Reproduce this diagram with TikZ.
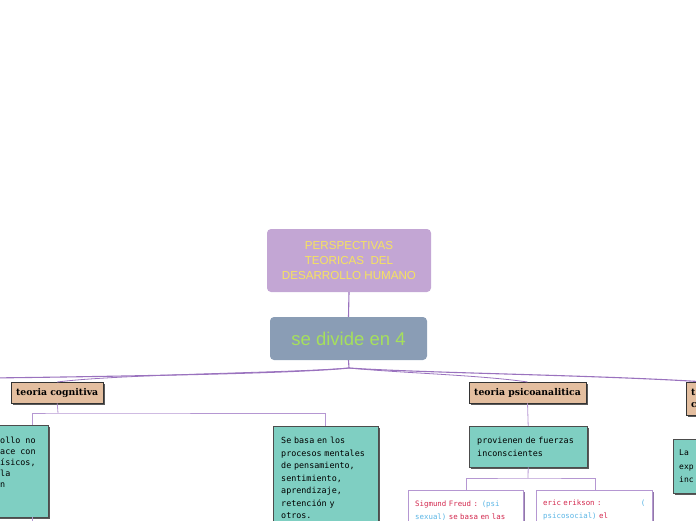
\documentclass[tikz,border=0pt]{standalone}
\usepackage{fontspec}
\setmainfont{Liberation Sans}
\newfontfamily\slabfont{DejaVu Serif}
\newfontfamily\notefont{DejaVu Sans Mono}
\usetikzlibrary{shadows}

\definecolor{topfill}{HTML}{C3A6D4}
\definecolor{toptext}{HTML}{F6E35E}
\definecolor{hubfill}{HTML}{8A9DB5}
\definecolor{hubtext}{HTML}{A6E05C}
\definecolor{tanfill}{HTML}{E3BE9F}
\definecolor{tealfill}{HTML}{7FCFC2}
\definecolor{branchcol}{HTML}{9A72BE}
\definecolor{linkcol}{HTML}{B597D2}
\definecolor{redtext}{HTML}{D3284E}
\definecolor{bluetext}{HTML}{5CB6E6}

\tikzset{
  main/.style={rounded corners=4pt, inner sep=0pt, align=center},
  theory/.style={draw=black!80, fill=tanfill, inner xsep=5pt, inner ysep=0pt,
    minimum height=21pt, anchor=north west,
    drop shadow={shadow xshift=2pt, shadow yshift=-2pt, fill=black!65, opacity=1},
    font=\slabfont\bfseries\fontsize{9.3}{12}\selectfont},
  card/.style={draw=black!70, fill=tealfill, anchor=north west, align=left,
    inner xsep=8pt, inner ysep=0pt,
    drop shadow={shadow xshift=2pt, shadow yshift=-2pt, fill=black!65, opacity=1},
    font=\notefont\fontsize{8.4}{12.5}\selectfont},
  note/.style={draw=linkcol, fill=white, anchor=north west, align=left,
    inner xsep=7pt, inner ysep=0pt,
    drop shadow={shadow xshift=2pt, shadow yshift=-2pt, fill=linkcol!80!black, opacity=1},
    font=\notefont\fontsize{7.4}{13}\selectfont},
  branch/.style={draw=branchcol, line width=1.1pt},
  link/.style={draw=linkcol, line width=0.8pt}
}

\begin{document}
\begin{tikzpicture}[x=1pt, y=-1pt]
  \useasboundingbox (0,0) rectangle (696,520);

  % central topic and hub
  \node[main, fill=topfill, text=toptext, minimum width=164pt, minimum height=63pt,
    font=\fontsize{11.6}{15.5}\selectfont] (top) at (349,260.5)
    {PERSPECTIVAS\\TEORICAS\ \ DEL\\DESARROLLO HUMANO};
  \node[main, fill=hubfill, text=hubtext, minimum width=157pt, minimum height=43pt,
    font=\fontsize{18.5}{20}\selectfont] (hub) at (348.5,338.5) {se divide en 4};
  \draw[branch] (top.south) -- (hub.north);
  \coordinate (fork) at (349,368);
  \coordinate (offleft) at (-10,378);
  \draw[branch] (hub.south) -- (fork);

  % the four theories
  \node[theory] (cog) at (11,382) {teoria cognitiva};
  \node[theory] (psi) at (469,382) {teoria psicoanalitica};
  \node[theory, align=left, text width=30pt, minimum height=33pt] (four) at (686,382) {t\\c};

  \draw[branch] (fork) .. controls (300,373) and (150,376) .. (offleft);
  \draw[branch, line width=0.8pt] (fork) .. controls (290,373) and (120,374) .. (cog.north);
  \draw[branch, line width=0.8pt] (fork) .. controls (400,373) and (480,375) .. (psi.north);
  \draw[branch] (fork) .. controls (420,373) and (600,375) .. (four.north);

  % teoria cognitiva
  \node[card, minimum width=108pt, minimum height=92pt] (cogleft) at (-60,425) {};
  \node[anchor=north west, align=left, inner sep=0pt,
    font=\notefont\fontsize{8.4}{11}\selectfont] (cogleftt) at (0,437)
    {ollo no\\ace con\\ísicos,\\la\\n};
  \node[card, text width=89pt, minimum height=104pt, inner ysep=8pt] (cogright) at (273,426)
    {Se basa en los\\procesos mentales\\de pensamiento,\\sentimiento,\\aprendizaje,\\retención y\\otros.};
  \coordinate (cogsplit) at (58,413);
  \draw[link] (cog.south) -- (cogsplit);
  \draw[link] (cogleft.north -| 32,0) |- (cogsplit) -| (cogright.north);
  \coordinate (cogdown) at (32,525);
  \draw[link] (cogleft.south -| cogdown) -- (cogdown);

  % teoria psicoanalitica
  \node[card, text width=102pt, minimum height=41pt] (psifuerzas) at (469,426)
    {provienen de fuerzas\\inconscientes};
  \draw[link] (psi.south) -- (psifuerzas.north);
  \node[note, text width=101pt, minimum height=40pt, inner ysep=9pt] (freud) at (408,490)
    {\textcolor{redtext}{Sigmund Freud :} \textcolor{bluetext}{(psi}\\
     \textcolor{bluetext}{sexual)} \textcolor{redtext}{se basa en las}};
  \node[note, text width=102pt, minimum height=40pt, inner ysep=9pt] (erikson) at (536,490)
    {\textcolor{redtext}{eric erikson :}\hfill\textcolor{bluetext}{(}\\
     \textcolor{bluetext}{psicosocial)} \textcolor{redtext}{el}};
  \coordinate (psisplit) at (528,478);
  \draw[link] (psifuerzas.south) -- (psisplit);
  \draw[link] (freud.north -| 466,0) |- (psisplit) -| (erikson.north -| 595,0);

  % cuarta teoria
  \node[card, inner xsep=6pt, text width=30pt, minimum height=54pt,
    font=\notefont\fontsize{8}{13.5}\selectfont]
    (fourcard) at (673,439) {La\\exp\\inc};
\end{tikzpicture}
\end{document}
